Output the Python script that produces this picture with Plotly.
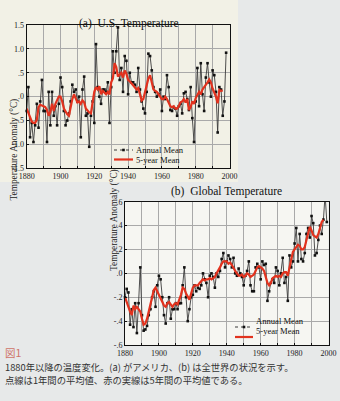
import plotly.graph_objects as go

# ---- data -----------------------------------------------------------------
us_years = list(range(1880, 1999))
us_annual = [
    -0.30, 0.20, -0.85, -0.55, -0.95, -0.60, -0.15, -0.65, -0.10, 0.35,
    -0.30, -0.30, -0.95, 0.10, -0.60, 0.10, -0.40, -0.20, -0.60, -0.15,
    0.40, 0.20, -0.30, -0.60, -0.50, -0.35, -0.10, 0.25, 0.10, 0.15,
    -0.10, 0.00, -0.85, 0.15, 0.42, -0.40, -0.35, -1.05, -0.40, -0.10,
    -0.55, 1.10, 0.20, 0.00, -0.15, 0.15, 0.15, 0.10, 0.30, -0.55,
    0.20, 0.95, 0.50, 0.95, 1.45, 0.35, 0.60, 0.10, 0.85, 0.75,
    0.05, 0.50, 0.30, 0.30, 0.25, 0.10, 0.60, 0.15, -0.10, -0.25,
    -0.35, 0.10, 0.90, 0.85, 0.55, 0.20, 0.10, 0.00, 0.05, 0.15,
    -0.30, 0.00, -0.05, 0.45, 0.20, -0.28, -0.30, -0.22, -0.25, -0.40,
    -0.20, -0.15, -0.35, 0.07, 0.10, -0.05, -0.28, 0.20, -0.45, -0.95,
    -0.10, 0.60, -0.20, 0.70, 0.05, -0.30, 0.40, 0.70, 0.30, 0.00,
    0.55, 0.45, 0.10, -0.75, 0.20, 0.15, -0.40, -0.10, 0.92,
]
us_5yr_years = list(range(1880, 1997))
us_5yr = [
    -0.25, -0.35, -0.45, -0.52, -0.55, -0.55, -0.48, -0.22, -0.17, -0.18,
    -0.20, -0.22, -0.28, -0.40, -0.32, -0.15, -0.30, -0.15, -0.08, 0.00,
    0.00, -0.10, -0.25, -0.32, -0.37, -0.40, -0.22, -0.05, 0.05, -0.02,
    -0.12, -0.10, -0.15, -0.08, -0.12, -0.25, -0.30, -0.33, -0.35, -0.12,
    0.10, 0.20, 0.15, 0.22, 0.05, 0.12, 0.08, 0.05, 0.10, 0.05,
    0.30, 0.38, 0.70, 0.62, 0.42, 0.45, 0.50, 0.40, 0.55, 0.48,
    0.35, 0.32, 0.28, 0.25, 0.20, 0.15, 0.18, 0.05, -0.08, -0.05,
    0.10, 0.25, 0.38, 0.45, 0.30, 0.15, 0.12, 0.10, 0.05, 0.00,
    -0.05, -0.05, 0.00, -0.05, -0.12, -0.20, -0.22, -0.20, -0.25, -0.25,
    -0.20, -0.12, -0.10, -0.05, -0.12, -0.05, -0.28, -0.22, -0.10, -0.15,
    -0.03, 0.05, 0.10, 0.05, 0.15, 0.20, 0.24, 0.30, 0.36, 0.30,
    0.17, 0.10, 0.00, -0.14, 0.14, 0.12, 0.13,
]

gl_years = list(range(1880, 2000))
gl_annual = [
    -0.20, -0.13, -0.16, -0.43, -0.30, -0.45, -0.25, -0.50, -0.25, 0.05,
    -0.35, -0.48, -0.47, -0.44, -0.35, -0.30, -0.20, -0.15, -0.28, -0.10,
    -0.02, -0.05, -0.20, -0.35, -0.42, -0.25, -0.20, -0.38, -0.30, -0.30,
    -0.25, -0.30, -0.25, -0.25, -0.10, 0.05, -0.20, -0.40, -0.30, -0.20,
    -0.18, -0.10, -0.15, -0.12, -0.13, -0.10, 0.00, -0.05, -0.08, -0.20,
    -0.02, 0.00, -0.03, -0.12, 0.00, -0.03, 0.02, 0.12, 0.17, 0.05,
    0.10, 0.15, 0.12, 0.05, 0.13, 0.00, -0.02, 0.04, 0.00, -0.03,
    -0.10, -0.02, 0.02, 0.10, -0.10, -0.15, -0.15, 0.05, 0.08, 0.05,
    -0.05, 0.10, 0.07, 0.08, -0.23, -0.15, -0.08, -0.05, -0.08, 0.05,
    0.02, -0.10, 0.00, 0.13, -0.08, -0.03, -0.23, 0.15, 0.05, 0.10,
    0.25, 0.38, 0.10, 0.33, 0.12, 0.10, 0.17, 0.33, 0.38, 0.30,
    0.48, 0.42, 0.15, 0.17, 0.28, 0.40, 0.33, 0.45, 0.66, 0.43,
]
gl_5yr_years = list(range(1880, 1998))
gl_5yr = [
    -0.20, -0.25, -0.28, -0.32, -0.35, -0.27, -0.30, -0.28, -0.30, -0.32,
    -0.38, -0.43, -0.42, -0.38, -0.32, -0.25, -0.20, -0.14, -0.12, -0.15,
    -0.18, -0.22, -0.25, -0.27, -0.28, -0.25, -0.24, -0.26, -0.28, -0.26,
    -0.25, -0.26, -0.22, -0.18, -0.12, -0.13, -0.17, -0.20, -0.22, -0.17,
    -0.12, -0.10, -0.10, -0.10, -0.08, -0.06, -0.05, -0.06, -0.05, -0.05,
    -0.04, -0.05, -0.04, -0.03, 0.00, 0.02, 0.05, 0.08, 0.10, 0.10,
    0.10, 0.08, 0.09, 0.07, 0.04, 0.02, 0.00, -0.02, -0.02, -0.01,
    -0.03, -0.02, 0.00, -0.01, -0.03, -0.02, -0.01, 0.02, 0.05, 0.06,
    0.05, 0.04, 0.02, -0.03, -0.08, -0.10, -0.08, -0.04, -0.03, -0.02,
    -0.03, -0.02, -0.03, 0.00, 0.01, 0.01, -0.02, 0.05, 0.12, 0.18,
    0.20, 0.22, 0.24, 0.23, 0.20, 0.20, 0.22, 0.28, 0.33, 0.39,
    0.36, 0.32, 0.31, 0.30, 0.33, 0.38, 0.43, 0.45,
]

decades = list(range(1880, 2001, 10))
decade_text = [str(d) if d % 20 == 0 else "" for d in decades]
us_ticks = [-1.5, -1.0, -0.5, 0.0, 0.5, 1.0, 1.5]
us_tick_text = ["-1.5", "-1.0", "-.5", ".0", ".5", "1.0", "1.5"]
gl_ticks = [-0.6, -0.4, -0.2, 0.0, 0.2, 0.4, 0.6]
gl_tick_text = ["-.6", "-.4", "-.2", ".0", ".2", ".4", ".6"]

titles = ["(a)  U.S. Temperature", "(b)  Global Temperature"]
y_title = "Temperature Anomaly (°C)"
legend_names = ["Annual Mean", "5-year Mean"]
caption_head = "図1"
caption_lines = [
    "1880年以降の温度変化。(a) がアメリカ、(b) は全世界の状況を示す。",
    "点線は1年間の平均値、赤の実線は5年間の平均値である。",
]

# ---- styling --------------------------------------------------------------
W, H = 340, 401
SERIF = "Liberation Serif, Times New Roman, serif"
CJK = "Noto Sans CJK JP, sans-serif"
ANNUAL = "#3b3b3b"
RED = "#e2321e"
GRID = "#a9a9a9"


def px_x(x):
    return x / W


def px_y(y):
    return 1 - y / H


fig = go.Figure()

for xs, ys, xa, ya in [(us_years, us_annual, "x", "y"), (gl_years, gl_annual, "x2", "y2")]:
    fig.add_trace(go.Scatter(
        x=xs, y=ys, xaxis=xa, yaxis=ya, mode="lines+markers",
        line=dict(color=ANNUAL, width=0.9),
        marker=dict(symbol="square", size=2.6, color="#111"),
        cliponaxis=False, showlegend=False,
    ))
for xs, ys, xa, ya in [(us_5yr_years, us_5yr, "x", "y"), (gl_5yr_years, gl_5yr, "x2", "y2")]:
    fig.add_trace(go.Scatter(
        x=xs, y=ys, xaxis=xa, yaxis=ya, mode="lines",
        line=dict(color=RED, width=2.2), showlegend=False,
    ))

axis_common = dict(
    showline=True, linecolor="#111", linewidth=1, mirror=True,
    showgrid=True, gridcolor=GRID, gridwidth=0.8, zeroline=False,
    ticks="inside", ticklen=2, tickcolor="#111", automargin=False,
    tickfont=dict(family=SERIF, size=8, color="#222"),
)

fig.update_layout(
    width=W, height=H,
    margin=dict(l=0, r=0, t=0, b=0),
    paper_bgcolor="#e7e9e9",
    plot_bgcolor="#f6f6f2",
    showlegend=False,
    xaxis=dict(domain=[px_x(26.7), px_x(229.5)], range=[1880, 2000], anchor="y",
               tickmode="array", tickvals=decades, ticktext=decade_text, **axis_common),
    yaxis=dict(domain=[px_y(168.3), px_y(25)], range=[-1.5, 1.5], anchor="x",
               tickmode="array", tickvals=us_ticks, ticktext=us_tick_text, **axis_common),
    xaxis2=dict(domain=[px_x(125), px_x(328.5)], range=[1880, 2000], anchor="y2",
                tickmode="array", tickvals=decades, ticktext=decade_text, **axis_common),
    yaxis2=dict(domain=[px_y(345), px_y(201.7)], range=[-0.6, 0.6], anchor="x2",
                tickmode="array", tickvals=gl_ticks, ticktext=gl_tick_text, **axis_common),
)

shapes = [
    # warm paper tone behind the upper panel
    dict(type="rect", xref="paper", yref="paper", x0=0, x1=px_x(238), y0=px_y(182), y1=1,
         fillcolor="#f2f1e6", line=dict(width=0), layer="below"),
]
annotations = []

# panel titles and axis titles
annotations.append(dict(x=px_x(129), y=px_y(15), xref="paper", yref="paper", text=titles[0],
                        showarrow=False, font=dict(family=SERIF, size=11.5, color="#111")))
annotations.append(dict(x=px_x(226), y=px_y(191), xref="paper", yref="paper", text=titles[1],
                        showarrow=False, font=dict(family=SERIF, size=11.5, color="#111")))
for xc, yc in [(6.5, 96.5), (106.5, 273)]:
    annotations.append(dict(x=px_x(xc), y=px_y(yc), xref="paper", yref="paper", text=y_title,
                            textangle=-90, showarrow=False,
                            font=dict(family=SERIF, size=9.3, color="#222")))

# hand-placed legends inside each panel
for lx0, lx1, ys in [(114, 133, (150, 159.5)), (235, 253, (327, 337))]:
    ya, yb = ys
    shapes.append(dict(type="line", xref="paper", yref="paper", x0=px_x(lx0), x1=px_x(lx1),
                       y0=px_y(ya), y1=px_y(ya), line=dict(color=ANNUAL, width=1, dash="dot")))
    mx = (lx0 + lx1) / 2
    shapes.append(dict(type="rect", xref="paper", yref="paper", x0=px_x(mx - 1.3), x1=px_x(mx + 1.3),
                       y0=px_y(ya + 1.3), y1=px_y(ya - 1.3), fillcolor="#111", line=dict(width=0)))
    shapes.append(dict(type="line", xref="paper", yref="paper", x0=px_x(lx0), x1=px_x(lx1),
                       y0=px_y(yb), y1=px_y(yb), line=dict(color=RED, width=2.2)))
    for name, yy in zip(legend_names, (ya, yb)):
        annotations.append(dict(x=px_x(lx1 + 2), y=px_y(yy), xref="paper", yref="paper", text=name,
                                xanchor="left", showarrow=False, borderpad=0,
                                font=dict(family=SERIF, size=8.6, color="#111")))

# caption
annotations.append(dict(x=px_x(3), y=px_y(362), xref="paper", yref="paper", text=caption_head,
                        xanchor="left", showarrow=False,
                        font=dict(family=CJK, size=10.5, color="#cf7468")))
for line, yy in zip(caption_lines, (375.5, 388.5)):
    annotations.append(dict(x=px_x(3), y=px_y(yy), xref="paper", yref="paper", text=line,
                            xanchor="left", showarrow=False,
                            font=dict(family=CJK, size=9.3, color="#333")))

fig.update_layout(shapes=shapes, annotations=annotations)
# page body without the browser's default margin so the figure fills the window
fig.write_html("out.html", post_script="document.body.style.margin='0';")
